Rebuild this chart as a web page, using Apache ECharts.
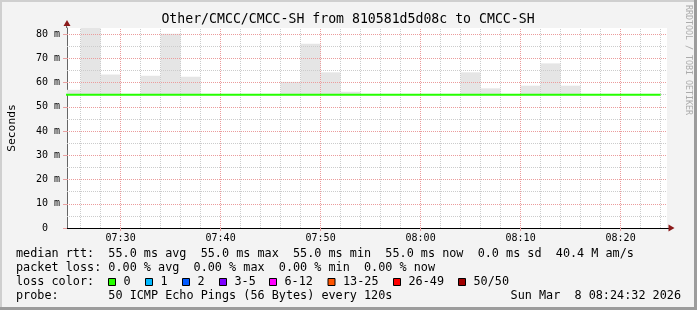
<!DOCTYPE html>
<html>
<head>
<meta charset="utf-8">
<script src="https://cdn.jsdelivr.net/npm/echarts@6/dist/echarts.min.js"></script>
<style>
html,body{margin:0;padding:0;background:#f3f3f3;}
#chart{width:697px;height:310px;}
</style>
</head>
<body>
<div id="chart"></div>
<script>
// ---- data (x values are minutes after 07:00) ----
const windowStart = 24.64;   // 07:24:38
const windowEnd = 84.64;     // 08:24:38
const stepEnds = [26,28,30,32,34,36,38,40,42,44,46,48,50,52,54,56,58,60,62,64,66,68,70,72,74,76,78,80,82,84];
const medianRtt = [55.0,55.0,55.0,55.0,55.0,55.0,55.0,55.0,55.0,55.0,55.0,55.0,55.0,55.0,55.0,55.0,55.0,55.0,55.0,55.0,55.0,55.0,55.0,55.0,55.0,55.0,55.0,55.0,55.0,55.0];
const smokeTop = [57.0,84.0,63.3,null,62.8,80.1,62.4,null,null,null,null,60.3,76.0,64.2,56.2,null,null,null,null,null,64.2,57.6,null,58.7,67.9,58.7,null,null,null,null];
const xMajorTicks = [30,40,50,60,70,80];
const xMinorTicks = [26,28,32,34,36,38,42,44,46,48,52,54,56,58,62,64,66,68,72,74,76,78,82,84];
const yLabelTicks = [0,10,20,30,40,50,60,70,80];
const yMajorTicks = [10,20,30,40,50,60,70,80];
const yMinorTicks = [5,15,25,35,45,55,65,75];
const yMax = 82.5;

const titleText = 'Other/CMCC/CMCC-SH from 810581d5d08c to CMCC-SH';
const legendLines = [
  'median rtt:  55.0 ms avg  55.0 ms max  55.0 ms min  55.0 ms now  0.0 ms sd  40.4 M am/s',
  'packet loss: 0.00 % avg  0.00 % max  0.00 % min  0.00 % now',
  'loss color:',
  'probe:       50 ICMP Echo Pings (56 Bytes) every 120s'
];
const dateText = 'Sun Mar  8 08:24:32 2026';
const lossLabels = ['0','1','2','3-5','6-12','13-25','26-49','50/50'];
const lossColors = ['#26ff00','#00b8ff','#0059ff','#7e00ff','#ff00ff','#ff5500','#ff0000','#a10000'];
const lossBoxX = [108.5,145.5,182.5,219.5,269.5,328,393.5,458.5];

const MONO = '"DejaVu Sans Mono", monospace';

function fmtTime(v){
  const h = 7 + Math.floor(v/60), m = Math.round(v % 60);
  return (h<10?'0':'')+h+':'+(m<10?'0':'')+m;
}

const smokeData = [];
stepEnds.forEach((t,i)=>{ if(smokeTop[i]!=null) smokeData.push([t, smokeTop[i], medianRtt[i]]); });
const medianData = [];
stepEnds.forEach((t,i)=>{ medianData.push([t-2, medianRtt[i]]); medianData.push([t, medianRtt[i]]); });

const gridDash = [1,1];
const chart = echarts.init(document.getElementById('chart'));

const graphics = [
  {type:'rect', shape:{x:0,y:0,width:697,height:2}, style:{fill:'#cfcfcf'}, silent:true},
  {type:'rect', shape:{x:0,y:0,width:2,height:310}, style:{fill:'#cfcfcf'}, silent:true},
  {type:'rect', shape:{x:0,y:307,width:697,height:3}, style:{fill:'#9c9c9c'}, silent:true},
  {type:'rect', shape:{x:694,y:0,width:3,height:310}, style:{fill:'#9c9c9c'}, silent:true},
  {type:'text', x:348, y:20, style:{text:titleText, font:'13.2px '+MONO, fill:'#000', align:'center', verticalAlign:'middle'}},
  {type:'text', x:688.5, y:60, rotation:-Math.PI/2, style:{text:'RRDTOOL / TOBI OETIKER', font:'8.3px '+MONO, fill:'#ababab', align:'center', verticalAlign:'middle'}},
  // axis extensions and arrows
  {type:'line', shape:{x1:66.5,y1:26,x2:66.5,y2:28}, style:{stroke:'#666',lineWidth:1}, z:10},
  {type:'polygon', shape:{points:[[67,20],[63.5,26],[70.5,26]]}, style:{fill:'#8b1a1a'}, z:10},
  {type:'line', shape:{x1:667,y1:228.5,x2:669,y2:228.5}, style:{stroke:'#000',lineWidth:1}, z:10},
  {type:'polygon', shape:{points:[[674.5,228],[668.5,224.5],[668.5,231.5]]}, style:{fill:'#8b1a1a'}, z:10}
];
legendLines.forEach((s,i)=>{
  graphics.push({type:'text', x:16, y:254 + i*14, style:{text:s, font:'11.8px '+MONO, fill:'#000', align:'left', verticalAlign:'middle'}});
});
graphics.push({type:'text', x:681, y:254+3*14, style:{text:dateText, font:'11.8px '+MONO, fill:'#000', align:'right', verticalAlign:'middle'}});
lossLabels.forEach((s,i)=>{
  graphics.push({type:'rect', shape:{x:lossBoxX[i], y:278.5, width:7, height:7}, style:{fill:lossColors[i], stroke:'#000', lineWidth:1}});
  graphics.push({type:'text', x:lossBoxX[i]+15, y:282, style:{text:s, font:'11.8px '+MONO, fill:'#000', align:'left', verticalAlign:'middle'}});
});

const option = {
  animation:false,
  backgroundColor:'#f3f3f3',
  grid:{left:67, top:28, width:600, height:200, show:true, backgroundColor:'#ffffff', borderWidth:0, containLabel:false, outerBoundsMode:'none'},
  xAxis:{
    type:'value', min:windowStart, max:windowEnd,
    axisLine:{show:true, lineStyle:{color:'#000', width:1}},
    axisTick:{show:true, customValues:xMajorTicks, length:3, lineStyle:{color:'#e8a0a0'}},
    axisLabel:{customValues:xMajorTicks, formatter:fmtTime, fontFamily:MONO, fontSize:10, color:'#000', margin:5},
    splitLine:{show:false}
  },
  yAxis:{
    type:'value', min:0, max:yMax,
    name:'Seconds', nameLocation:'middle', nameGap:49, nameRotate:90,
    nameTextStyle:{fontFamily:MONO, fontSize:11.3, color:'#000'},
    axisLine:{show:true, lineStyle:{color:'#666', width:1}},
    axisTick:{show:true, customValues:yLabelTicks, length:4, lineStyle:{color:'#e8a0a0'}},
    axisLabel:{customValues:yLabelTicks, formatter:v=> v===0 ? '0  ' : (v+' m'), fontFamily:MONO, fontSize:10, color:'#000', margin:7},
    splitLine:{show:false}
  },
  series:[
    {
      type:'custom', z:1, silent:true,
      data:smokeData,
      renderItem:function(params, api){
        const p1 = api.coord([api.value(0)-2, api.value(1)]);
        const p2 = api.coord([api.value(0), api.value(2)]);
        const cs = params.coordSys;
        const r = echarts.graphic.clipRectByRect(
          {x:p1[0], y:p1[1], width:p2[0]-p1[0], height:p2[1]-p1[1]},
          {x:cs.x, y:cs.y, width:cs.width, height:cs.height});
        return r && {type:'rect', shape:r, style:{fill:'#e5e5e5'}};
      }
    },
    {
      type:'line', z:2, data:[], silent:true,
      markLine:{silent:true, symbol:['none','none'], label:{show:false}, animation:false,
        lineStyle:{color:'#cccccc', width:1, type:gridDash},
        emphasis:{disabled:true},
        data: xMinorTicks.map(v=>({xAxis:v})).concat(yMinorTicks.map(v=>({yAxis:v})))}
    },
    {
      type:'line', z:3, data:[], silent:true,
      markLine:{silent:true, symbol:['none','none'], label:{show:false}, animation:false,
        lineStyle:{color:'#eb9c9c', width:1, type:gridDash},
        emphasis:{disabled:true},
        data: xMajorTicks.map(v=>({xAxis:v})).concat(yMajorTicks.map(v=>({yAxis:v})))}
    },
    {
      type:'line', z:5, data:medianData, showSymbol:false, symbol:'none', silent:true,
      lineStyle:{color:'#26ff00', width:2}, clip:true
    }
  ],
  graphic:graphics
};
chart.setOption(option);
</script>
</body>
</html>
